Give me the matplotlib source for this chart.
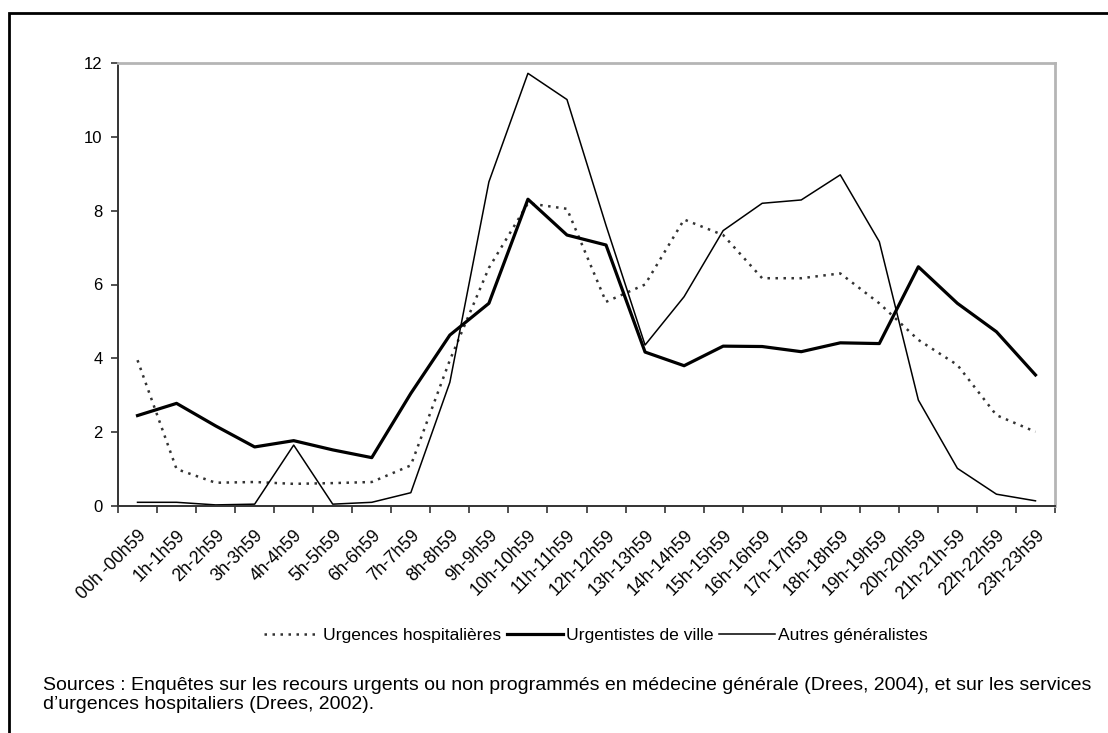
import numpy as np
import matplotlib
matplotlib.use("Agg")
import matplotlib.pyplot as plt
from matplotlib.patches import Rectangle

plt.rcParams['font.family'] = ['Liberation Sans', 'DejaVu Sans']

# tranches horaires
heures = ["00h -00h59", "1h-1h59", "2h-2h59", "3h-3h59", "4h-4h59", "5h-5h59",
          "6h-6h59", "7h-7h59", "8h-8h59", "9h-9h59", "10h-10h59", "11h-11h59",
          "12h-12h59", "13h-13h59", "14h-14h59", "15h-15h59", "16h-16h59",
          "17h-17h59", "18h-18h59", "19h-19h59", "20h-20h59", "21h-21h-59",
          "22h-22h59", "23h-23h59"]

# valeurs (%)
urgences_hosp = [3.95, 1.0, 0.63, 0.65, 0.6, 0.62, 0.65, 1.1, 3.95, 6.45, 8.2, 8.05,
                 5.53, 6.0, 7.76, 7.34, 6.17, 6.17, 6.3, 5.49, 4.5, 3.82, 2.46, 2.01]
urgentistes = [2.45, 2.78, 2.17, 1.6, 1.77, 1.52, 1.31, 3.05, 4.63, 5.49, 8.31, 7.34,
               7.07, 4.17, 3.8, 4.33, 4.32, 4.18, 4.42, 4.4, 6.48, 5.49, 4.72, 3.55]
autres_gen = [0.1, 0.1, 0.03, 0.05, 1.65, 0.05, 0.1, 0.36, 3.35, 8.78, 11.72, 11.01,
              7.6, 4.36, 5.67, 7.46, 8.2, 8.29, 8.97, 7.16, 2.87, 1.02, 0.32, 0.14]

sources = ("Sources : Enquêtes sur les recours urgents ou non programmés en médecine générale "
           "(Drees, 2004), et sur les services\nd’urgences hospitaliers (Drees, 2002).")

fig = plt.figure(figsize=(11.08, 7.33), dpi=100)
ax = fig.add_axes([118/1108, 1 - 506/733, (1055 - 118)/1108, (506 - 63)/733])

x = np.arange(len(heures)) + 0.5
ax.plot(x, urgences_hosp, color='#333333', lw=1.8, linestyle=(0, (1, 2.2)),
        label='Urgences hospitalières')
ax.plot(x, urgentistes, color='black', lw=2.3, label='Urgentistes de ville')
ax.plot(x, autres_gen, color='black', lw=1.1, label='Autres généralistes')

ax.set_xlim(0, len(heures))
ax.set_ylim(0, 12)
ax.set_yticks(range(0, 13, 2))
ax.set_xticks(range(len(heures) + 1))
ax.set_xticklabels([])
ax.set_xticks(x, minor=True)
ax.set_xticklabels(heures, minor=True, rotation=45, ha='right', va='top',
                   rotation_mode='anchor', fontsize=12.8)
ax.tick_params(axis='x', which='minor', length=0, pad=15)
ax.tick_params(axis='x', which='major', length=5, width=1.2, color='#333333')
ax.tick_params(axis='y', length=5, width=1.2, color='#333333', labelsize=12, pad=6)

for s in ['top', 'right']:
    ax.spines[s].set_color('#b5b5b5')
    ax.spines[s].set_linewidth(2)
for s in ['left', 'bottom']:
    ax.spines[s].set_color('#333333')
    ax.spines[s].set_linewidth(1.4)

leg = fig.legend(loc='center', bbox_to_anchor=(596/1108, 1 - 635/733), ncol=3,
                 frameon=False, fontsize=12.6, handlelength=3.2, handletextpad=0.2,
                 columnspacing=0.3)

fig.text(43/1108, 1 - 695/733, sources, fontsize=14.0, ha='left', va='center',
         linespacing=1.2)

# cadre extérieur
fig.add_artist(Rectangle((9/1108, -0.1), 1.2, 1.1 - 13/733,
                         transform=fig.transFigure, fill=False, lw=2, color='black'))

fig.savefig('out.png', dpi=100)
